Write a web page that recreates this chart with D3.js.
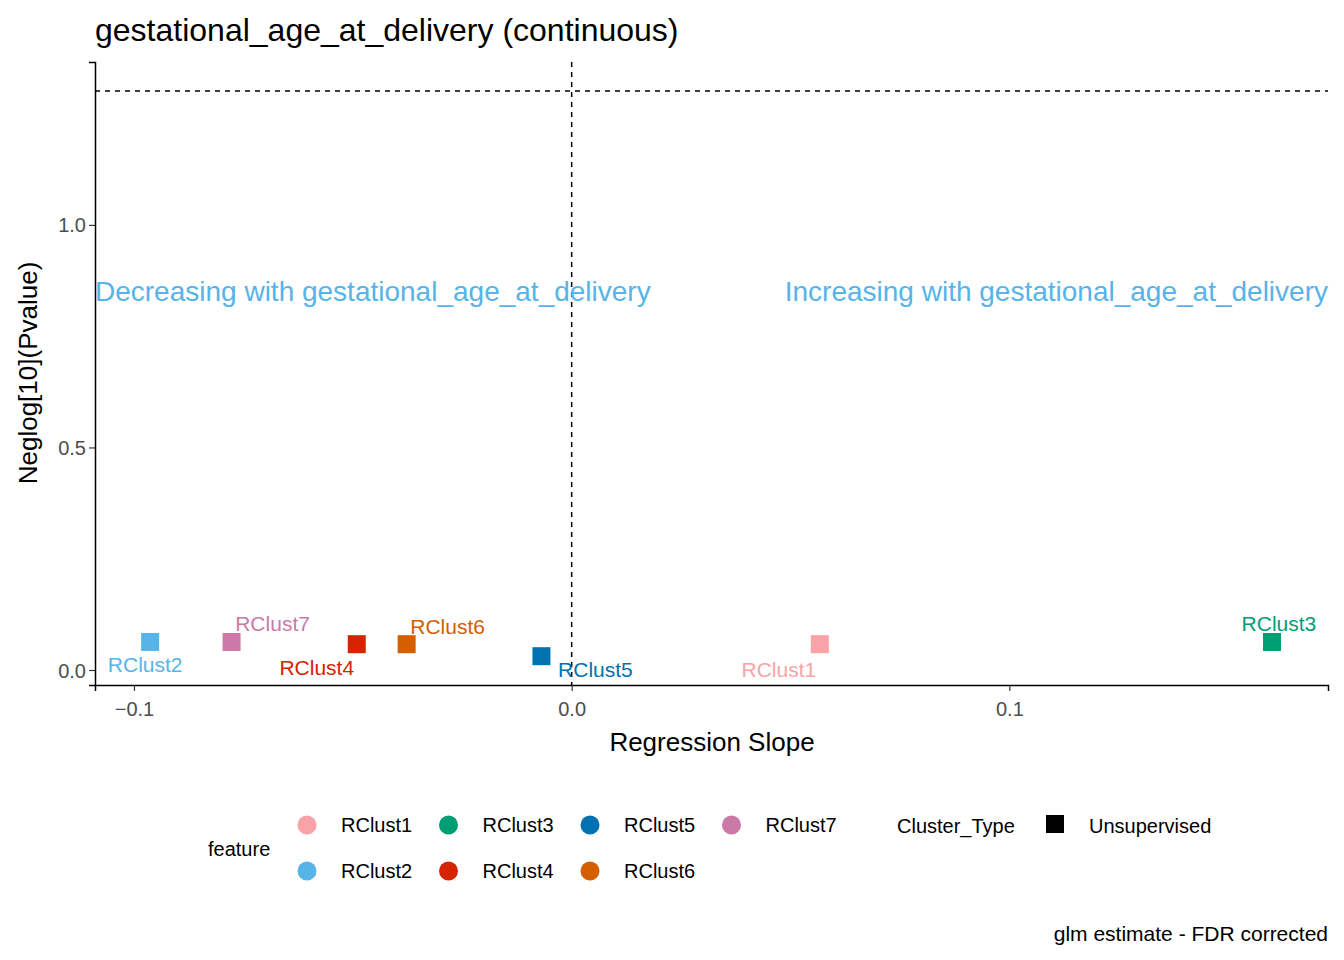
<!DOCTYPE html>
<html><head><meta charset="utf-8">
<script src="https://cdn.jsdelivr.net/npm/d3@7"></script>
<style>body{margin:0;background:#fff}text{font-family:"Liberation Sans",Arial,sans-serif}</style>
</head><body><svg id="c" width="1344" height="960"></svg>
<script>
var features = ["RClust1","RClust2","RClust3","RClust4","RClust5","RClust6","RClust7"];
var slopes = [0.0567, -0.0963, 0.160, -0.0491, -0.0069, -0.0377, -0.0777];
var neglogP = [0.058, 0.063, 0.063, 0.058, 0.031, 0.058, 0.063];
var colors = ["#F9A3A9","#56B4E9","#009E73","#D62300","#0072B2","#D55E00","#CC79A7"];
// label nudges (px) as ggrepel placed them
var labelDx = [-41, -5, 7, -40, 54, 41, 41];
var labelDy = [25, 23, -18, 23, 13, -18, -18];
var xTicks = [-0.1, 0.0, 0.1];
var yTicks = [0.0, 0.5, 1.0];

var svg = d3.select("#c");
var x = d3.scaleLinear().domain([-0.1089, 0.1728]).range([95, 1328]);
var y = d3.scaleLinear().domain([-0.0337, 1.366]).range([685, 62]);

svg.append("text").attr("x",95).attr("y",41).attr("font-size",32).text("gestational_age_at_delivery (continuous)");

var xa = svg.append("g").attr("transform","translate(0,685)")
  .call(d3.axisBottom(x).tickValues(xTicks).tickFormat(d3.format(".1f")).tickSizeOuter(0).tickSize(6));
var ya = svg.append("g").attr("transform","translate(95,0)")
  .call(d3.axisLeft(y).tickValues(yTicks).tickFormat(d3.format(".1f")).tickSizeOuter(0).tickSize(6));
[xa, ya].forEach(function(a){
  a.select(".domain").attr("stroke","#000").attr("stroke-width",1.5);
  a.selectAll(".tick line").attr("stroke","#333").attr("stroke-width",1.2);
  a.selectAll(".tick text").attr("font-size",20).attr("fill","#4D4D4D").attr("font-family","Liberation Sans, Arial");
});
xa.selectAll(".tick text").attr("dy","1.1em");
ya.selectAll(".tick text").attr("dy","0.35em");

svg.append("line").attr("x1",95).attr("x2",1328).attr("y1",y(1.301)).attr("y2",y(1.301))
  .attr("stroke","#000").attr("stroke-width",1.5).attr("stroke-dasharray","5,5");
svg.append("line").attr("x1",x(0)).attr("x2",x(0)).attr("y1",62).attr("y2",685)
  .attr("stroke","#000").attr("stroke-width",1.5).attr("stroke-dasharray","5,5");

svg.append("text").attr("x",95).attr("y",y(0.83)).attr("font-size",28).attr("fill","#56B4E9")
  .text("Decreasing with gestational_age_at_delivery");
svg.append("text").attr("x",1328).attr("y",y(0.83)).attr("font-size",28).attr("fill","#56B4E9")
  .attr("text-anchor","end").text("Increasing with gestational_age_at_delivery");

var idx = d3.range(features.length);
svg.selectAll("rect.pt").data(idx).enter().append("rect")
  .attr("x",function(i){return x(slopes[i])-9;}).attr("y",function(i){return y(neglogP[i])-9;})
  .attr("width",18).attr("height",18).attr("fill",function(i){return colors[i];});
svg.selectAll("text.lb").data(idx).enter().append("text")
  .attr("x",function(i){return x(slopes[i])+labelDx[i];}).attr("y",function(i){return y(neglogP[i])+labelDy[i];})
  .attr("text-anchor","middle").attr("dy","0.35em").attr("font-size",21)
  .attr("fill",function(i){return colors[i];}).text(function(i){return features[i];});

svg.append("text").attr("x",712).attr("y",751).attr("text-anchor","middle").attr("font-size",26).text("Regression Slope");
svg.append("text").attr("transform","translate(37,373) rotate(-90)").attr("text-anchor","middle").attr("font-size",26).text("Neglog[10](Pvalue)");

// legend
svg.append("text").attr("x",208).attr("y",856).attr("font-size",20).text("feature");
var order = [0,2,4,6,1,3,5];
order.forEach(function(i,k){
  var col = k < 4 ? k : k-4, row = k < 4 ? 0 : 1;
  var cx = 307 + col*141.5, cy = 825 + row*46;
  svg.append("circle").attr("cx",cx).attr("cy",cy).attr("r",9.5).attr("fill",colors[i]);
  svg.append("text").attr("x",cx+34).attr("y",cy+7).attr("font-size",20).text(features[i]);
});
svg.append("text").attr("x",897).attr("y",833).attr("font-size",20).text("Cluster_Type");
svg.append("rect").attr("x",1046).attr("y",815).attr("width",18).attr("height",18).attr("fill","#000");
svg.append("text").attr("x",1089).attr("y",833).attr("font-size",20).text("Unsupervised");

svg.append("text").attr("x",1328).attr("y",941).attr("text-anchor","end").attr("font-size",21).text("glm estimate - FDR corrected");
</script></body></html>
